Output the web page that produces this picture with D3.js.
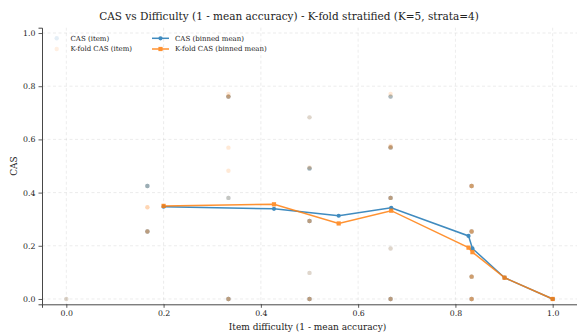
<!DOCTYPE html>
<html>
<head>
<meta charset="utf-8">
<script src="https://cdn.jsdelivr.net/npm/d3@7"></script>
<style>
  body { margin: 0; background: #fff; }
  svg text { font-family: "DejaVu Serif", serif !important; fill: #222; }
</style>
</head>
<body>
<svg id="chart" width="577" height="334"></svg>
<script>
// Tick values for both axes
const xTicks = [0.0, 0.2, 0.4, 0.6, 0.8, 1.0];
const yTicks = [0.0, 0.2, 0.4, 0.6, 0.8, 1.0];

// Per-item CAS: [difficulty, CAS]; repeated rows are distinct items with identical values
const casItems = [
  [0.0, 0.0],
  [0.1667, 0.425], [0.1667, 0.425], [0.1667, 0.425], [0.1667, 0.425],
  [0.1667, 0.254], [0.1667, 0.254], [0.1667, 0.254], [0.1667, 0.254],
  [0.3333, 0.761], [0.3333, 0.761], [0.3333, 0.761], [0.3333, 0.761],
  [0.3333, 0.380], [0.3333, 0.380],
  [0.3333, 0.0], [0.3333, 0.0], [0.3333, 0.0], [0.3333, 0.0],
  [0.5, 0.683],
  [0.5, 0.491], [0.5, 0.491], [0.5, 0.491], [0.5, 0.491],
  [0.5, 0.293], [0.5, 0.293], [0.5, 0.293], [0.5, 0.293],
  [0.5, 0.098],
  [0.5, 0.0], [0.5, 0.0], [0.5, 0.0], [0.5, 0.0],
  [0.6667, 0.761], [0.6667, 0.761], [0.6667, 0.761],
  [0.6667, 0.570], [0.6667, 0.570], [0.6667, 0.570], [0.6667, 0.570],
  [0.6667, 0.380], [0.6667, 0.380], [0.6667, 0.380], [0.6667, 0.380],
  [0.6667, 0.190],
  [0.6667, 0.0], [0.6667, 0.0], [0.6667, 0.0], [0.6667, 0.0],
  [0.8333, 0.425], [0.8333, 0.425], [0.8333, 0.425],
  [0.8333, 0.254], [0.8333, 0.254], [0.8333, 0.254],
  [0.8333, 0.084], [0.8333, 0.084], [0.8333, 0.084],
  [0.8333, 0.0], [0.8333, 0.0], [0.8333, 0.0],
  [1.0, 0.0]
];

// Per-item K-fold CAS: [difficulty, K-fold CAS]
const kfoldItems = [
  [0.0, 0.0],
  [0.1667, 0.425],
  [0.1667, 0.345], [0.1667, 0.345],
  [0.1667, 0.254], [0.1667, 0.254], [0.1667, 0.254],
  [0.3333, 0.771],
  [0.3333, 0.761], [0.3333, 0.761], [0.3333, 0.761],
  [0.3333, 0.569],
  [0.3333, 0.482],
  [0.3333, 0.380],
  [0.3333, 0.0], [0.3333, 0.0], [0.3333, 0.0],
  [0.5, 0.683],
  [0.5, 0.495],
  [0.5, 0.491],
  [0.5, 0.293], [0.5, 0.293], [0.5, 0.293],
  [0.5, 0.098],
  [0.5, 0.0], [0.5, 0.0], [0.5, 0.0],
  [0.6667, 0.771],
  [0.6667, 0.761],
  [0.6667, 0.576],
  [0.6667, 0.570], [0.6667, 0.570], [0.6667, 0.570],
  [0.6667, 0.380], [0.6667, 0.380], [0.6667, 0.380],
  [0.6667, 0.190],
  [0.6667, 0.0], [0.6667, 0.0], [0.6667, 0.0],
  [0.8333, 0.425], [0.8333, 0.425], [0.8333, 0.425], [0.8333, 0.425],
  [0.8333, 0.254], [0.8333, 0.254], [0.8333, 0.254], [0.8333, 0.254],
  [0.8333, 0.084], [0.8333, 0.084], [0.8333, 0.084], [0.8333, 0.084],
  [0.8333, 0.0], [0.8333, 0.0], [0.8333, 0.0], [0.8333, 0.0],
  [1.0, 0.0]
];

// Binned means (bin mean difficulty, bin mean score)
const binDifficulty = [0.200, 0.427, 0.560, 0.668, 0.827, 0.835, 0.901, 1.000];
const binMeanCas    = [0.347, 0.339, 0.313, 0.343, 0.237, 0.190, 0.080, 0.000];
const binMeanKfold  = [0.350, 0.356, 0.284, 0.332, 0.193, 0.176, 0.080, 0.000];

const BLUE = "#1f77b4", ORANGE = "#ff7f0e";

const svg = d3.select("#chart");
const plot = { left: 42, right: 577, top: 27.7, bottom: 304.3 };

const x = d3.scaleLinear().domain([-0.05, 1.05]).range([plot.left, plot.right]);
const y = d3.scaleLinear().domain([-0.02, 1.02]).range([plot.bottom, plot.top]);

// Title
svg.append("text")
  .attr("x", 289).attr("y", 19.5)
  .attr("text-anchor", "middle")
  .style("font-size", "10.5px")
  .text("CAS vs Difficulty (1 - mean accuracy) - K-fold stratified (K=5, strata=4)");

// Dashed grid
const grid = svg.append("g").attr("stroke", "#b0b0b0").attr("stroke-opacity", 0.35)
  .attr("stroke-width", 0.7).attr("stroke-dasharray", "3,2.5");
grid.selectAll(".gx").data(xTicks).join("line")
  .attr("x1", d => x(d)).attr("x2", d => x(d))
  .attr("y1", plot.top).attr("y2", plot.bottom);
grid.selectAll(".gy").data(yTicks).join("line")
  .attr("x1", plot.left).attr("x2", plot.right)
  .attr("y1", d => y(d)).attr("y2", d => y(d));

// Axes
const xAxis = d3.axisBottom(x).tickValues(xTicks).tickFormat(d3.format(".1f")).tickSizeOuter(0).tickSize(3.5).tickPadding(3);
const yAxis = d3.axisLeft(y).tickValues(yTicks).tickFormat(d3.format(".1f")).tickSizeOuter(0).tickSize(3.5).tickPadding(3);

const gx = svg.append("g").attr("transform", `translate(0,${plot.bottom})`).call(xAxis);
const gy = svg.append("g").attr("transform", `translate(${plot.left},0)`).call(yAxis);
[gx, gy].forEach(g => {
  g.select(".domain").attr("stroke", "#333").attr("stroke-width", 0.9);
  g.selectAll(".tick line").attr("stroke", "#333").attr("stroke-width", 0.8);
  g.selectAll(".tick text").style("font-size", "7.8px").attr("fill", "#222");
});

// Axis labels
svg.append("text")
  .attr("x", (plot.left + plot.right) / 2 - 2).attr("y", 330)
  .attr("text-anchor", "middle").style("font-size", "9px")
  .text("Item difficulty (1 - mean accuracy)");
svg.append("text")
  .attr("transform", `translate(17,${(plot.top + plot.bottom) / 2}) rotate(-90)`)
  .attr("text-anchor", "middle").style("font-size", "9px")
  .text("CAS");

// Item scatter (translucent, so stacked items read darker)
const pts = svg.append("g");
pts.selectAll(".cas").data(casItems).join("circle")
  .attr("cx", d => x(d[0])).attr("cy", d => y(d[1])).attr("r", 2.2)
  .attr("fill", BLUE).attr("fill-opacity", 0.17);
pts.selectAll(".kf").data(kfoldItems).join("circle")
  .attr("cx", d => x(d[0])).attr("cy", d => y(d[1])).attr("r", 2.2)
  .attr("fill", ORANGE).attr("fill-opacity", 0.17);

// Binned mean lines
const casLine = binDifficulty.map((d, i) => [d, binMeanCas[i]]);
const kfLine = binDifficulty.map((d, i) => [d, binMeanKfold[i]]);
const line = d3.line().x(d => x(d[0])).y(d => y(d[1]));

const gCas = svg.append("g").attr("opacity", 0.85);
gCas.append("path").datum(casLine).attr("d", line)
  .attr("fill", "none").attr("stroke", BLUE).attr("stroke-width", 1.5);
gCas.selectAll("circle").data(casLine).join("circle")
  .attr("cx", d => x(d[0])).attr("cy", d => y(d[1])).attr("r", 2.1).attr("fill", BLUE);

const gKf = svg.append("g").attr("opacity", 0.85);
gKf.append("path").datum(kfLine).attr("d", line)
  .attr("fill", "none").attr("stroke", ORANGE).attr("stroke-width", 1.5);
gKf.selectAll("rect").data(kfLine).join("rect")
  .attr("x", d => x(d[0]) - 2.1).attr("y", d => y(d[1]) - 2.1)
  .attr("width", 4.2).attr("height", 4.2).attr("fill", ORANGE);

// Legend
const legend = svg.append("g").style("font-size", "7px");
const legendItems = [
  { label: "CAS (item)", kind: "dot", color: BLUE, col: 0, row: 0 },
  { label: "K-fold CAS (item)", kind: "dot", color: ORANGE, col: 0, row: 1 },
  { label: "CAS (binned mean)", kind: "lineCircle", color: BLUE, col: 1, row: 0 },
  { label: "K-fold CAS (binned mean)", kind: "lineSquare", color: ORANGE, col: 1, row: 1 }
];
const colX = [56.7, 160.5], textX = [70.5, 175], rowY = [38.3, 49];
legendItems.forEach(it => {
  const cx = colX[it.col], cy = rowY[it.row];
  if (it.kind === "dot") {
    legend.append("circle").attr("cx", cx).attr("cy", cy).attr("r", 2.2)
      .attr("fill", it.color).attr("fill-opacity", 0.12);
  } else {
    const g = legend.append("g").attr("opacity", 0.85);
    g.append("line").attr("x1", cx - 8.5).attr("x2", cx + 8.5).attr("y1", cy).attr("y2", cy)
      .attr("stroke", it.color).attr("stroke-width", 1.5);
    if (it.kind === "lineCircle") {
      g.append("circle").attr("cx", cx).attr("cy", cy).attr("r", 2.1).attr("fill", it.color);
    } else {
      g.append("rect").attr("x", cx - 2.1).attr("y", cy - 2.1).attr("width", 4.2).attr("height", 4.2).attr("fill", it.color);
    }
  }
  legend.append("text").attr("x", textX[it.col]).attr("y", cy + 2.4).text(it.label);
});
</script>
</body>
</html>
